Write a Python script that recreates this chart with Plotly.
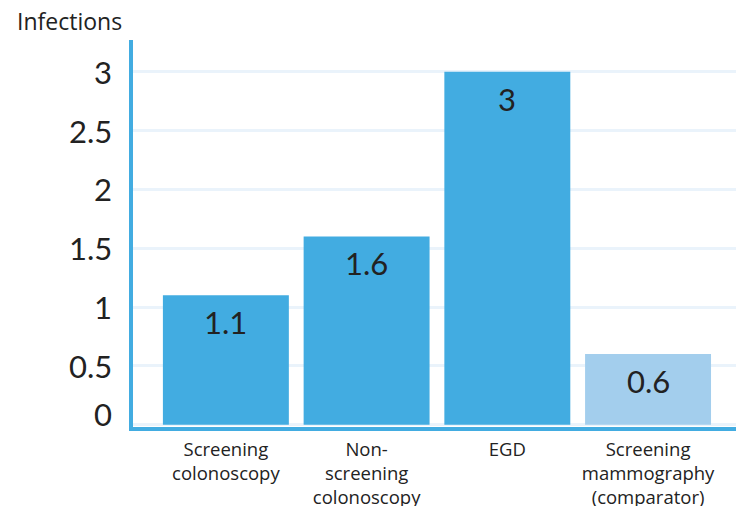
import plotly.graph_objects as go

categories = ["Screening colonoscopy", "Non-screening colonoscopy", "EGD", "Screening mammography (comparator)"]
tick_labels = ["Screening<br>colonoscopy", "Non-<br>screening<br>colonoscopy", "EGD", "Screening<br>mammography<br>(comparator)"]
values = [1.1, 1.6, 3, 0.6]
bar_colors = ["#42ACE1", "#42ACE1", "#42ACE1", "#A3CEED"]
y_ticks = [0, 0.5, 1, 1.5, 2, 2.5, 3]
y_tick_text = ["0", "0.5", "1", "1.5", "2", "2.5", "3"]

NUM_FONT = "Lato"
LBL_FONT = "Open Sans"
TEXT = "#222222"
AXIS = "#42ACE1"

fig = go.Figure()
fig.add_trace(go.Bar(
    x=categories, y=values, marker=dict(color=bar_colors, line=dict(width=0)),
    width=0.895, hoverinfo="skip",
))

for c, v in zip(categories, values):
    fig.add_annotation(x=c, y=v, text=str(v), showarrow=False, yanchor="middle",
                       yshift=-27, font=dict(family=NUM_FONT, size=31, color=TEXT))

# y tick labels drawn as annotations so the "0" label can sit slightly raised as in the reference
for t, lab in zip(y_ticks, y_tick_text):
    fig.add_annotation(xref="paper", x=0, y=t, text=lab, showarrow=False,
                       xanchor="right", yanchor="middle", xshift=-19,
                       yshift=(11 if t == 0 else 0),
                       font=dict(family=NUM_FONT, size=31, color=TEXT))

fig.add_annotation(xref="paper", yref="paper", x=-0.1957, y=1.0, xanchor="left", yanchor="middle",
                   yshift=19, text="Infections", showarrow=False,
                   font=dict(family=LBL_FONT, size=23, color=TEXT))

fig.update_layout(
    width=742, height=506,
    margin=dict(l=133, r=6, t=40, b=79),
    plot_bgcolor="white", paper_bgcolor="white",
    showlegend=False,
    xaxis=dict(
        range=[-0.66, 3.625], automargin=False,
        tickmode="array", tickvals=categories, ticktext=tick_labels,
        tickfont=dict(family=LBL_FONT, size=18.5, color=TEXT),
        showgrid=False, zeroline=False,
        showline=True, linecolor=AXIS, linewidth=4,
        ticks="", ticklabelstandoff=3,
    ),
    yaxis=dict(
        range=[-0.02, 3.27], automargin=False,
        tickmode="array", tickvals=y_ticks, ticktext=[""] * len(y_ticks),
        showgrid=True, gridcolor="#EAF3FB", gridwidth=3,
        zeroline=False,
        showline=True, linecolor=AXIS, linewidth=4,
        ticks="",
    ),
)

fig.write_html("out.html")
